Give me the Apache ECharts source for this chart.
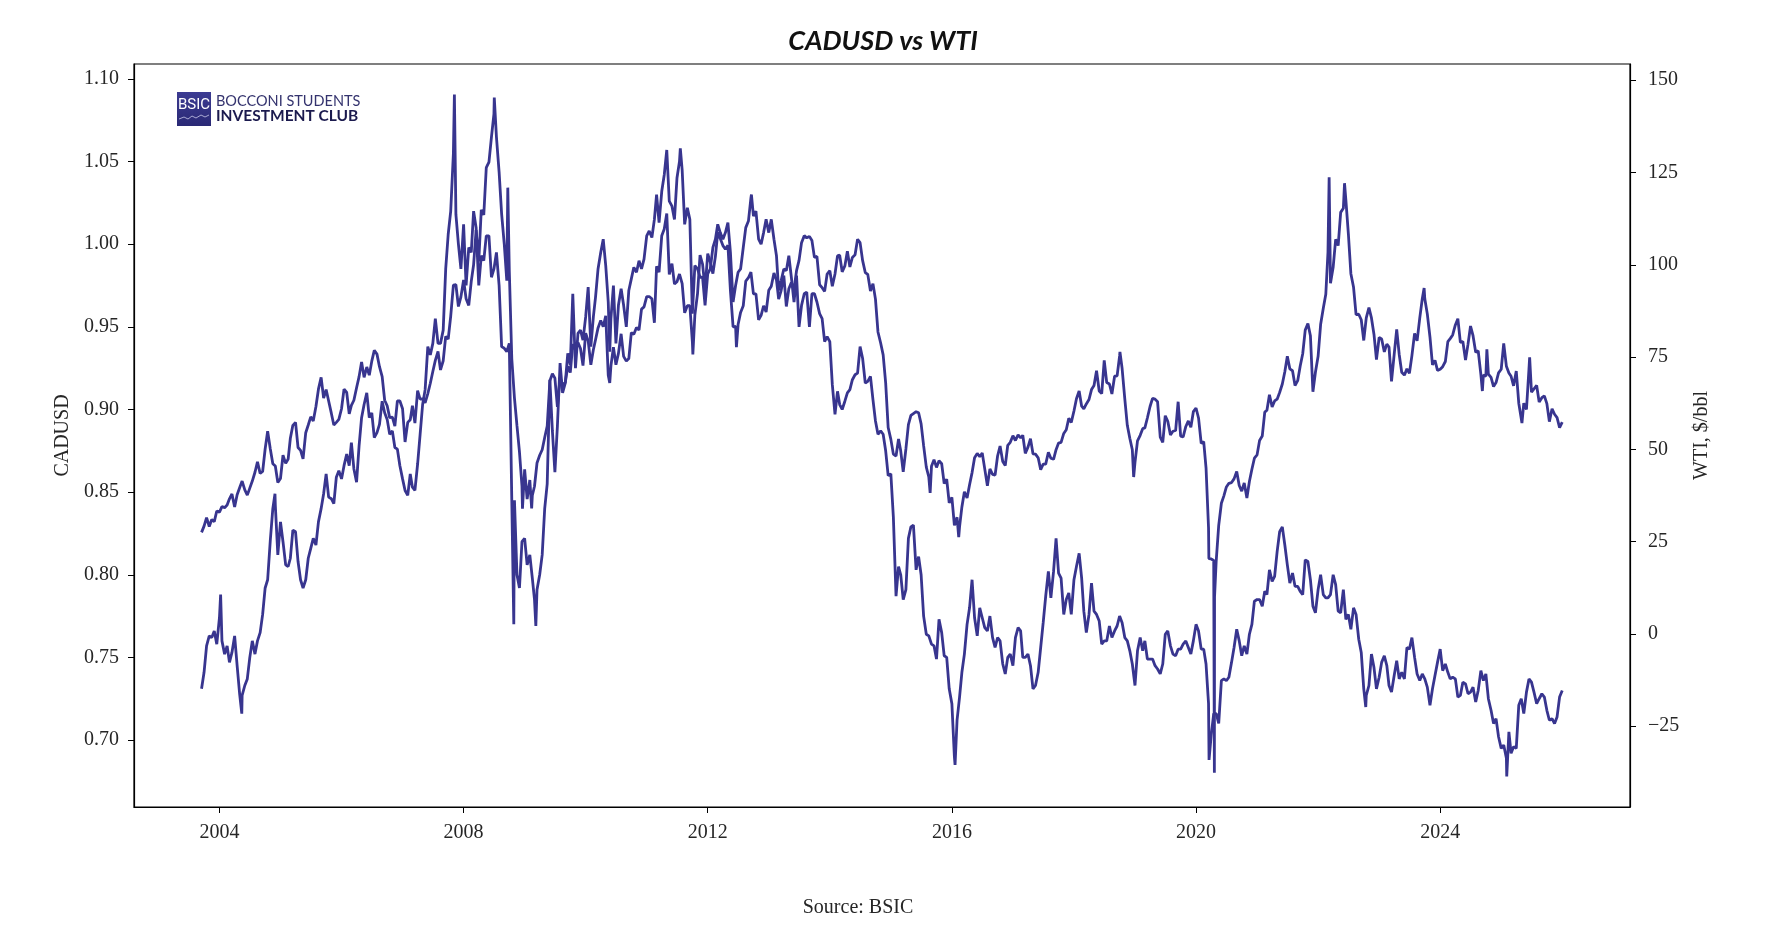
<!DOCTYPE html>
<html>
<head>
<meta charset="utf-8">
<script src="https://cdn.jsdelivr.net/npm/echarts@6.0.0/dist/echarts.min.js"></script>
<style>
html,body{margin:0;padding:0;background:#fff;}
#chart{width:1770px;height:936px;}
</style>
</head>
<body>
<div id="chart"></div>
<script>
// ---- Data (semi-monthly samples: 1st and 16th of each month; 2003 starts Sep 16) ----
const firstYear = 2003;
const cadusdByYear = [
  [0.731,0.741,0.757,0.763,0.762,0.766,0.758],
  [0.774,0.760,0.752,0.757,0.747,0.753,0.763,0.745,0.728,0.727,0.733,0.737,0.750,0.760,0.752,0.760,0.765,0.776,0.792,0.797,0.821,0.840,0.842,0.812],
  [0.832,0.820,0.806,0.805,0.810,0.827,0.826,0.808,0.797,0.792,0.797,0.810,0.816,0.822,0.818,0.832,0.840,0.849,0.861,0.847,0.846,0.843,0.859,0.863],
  [0.858,0.866,0.873,0.866,0.880,0.864,0.856,0.878,0.895,0.903,0.910,0.895,0.898,0.883,0.886,0.891,0.905,0.898,0.894,0.885,0.887,0.877,0.876,0.866],
  [0.858,0.851,0.848,0.861,0.853,0.851,0.867,0.885,0.903,0.912,0.938,0.933,0.940,0.955,0.940,0.940,0.948,0.985,1.006,1.020,1.055,1.018,1.000,0.985],
  [1.012,0.975,0.998,0.995,1.020,1.010,0.975,0.993,0.990,1.005,1.005,0.980,0.985,0.995,0.975,0.938,0.937,0.935,0.940,0.845,0.845,0.800,0.792,0.820],
  [0.822,0.806,0.812,0.798,0.785,0.791,0.800,0.812,0.840,0.855,0.918,0.887,0.862,0.890,0.928,0.910,0.916,0.934,0.927,0.970,0.925,0.946,0.948,0.942],
  [0.956,0.974,0.938,0.956,0.968,0.985,0.995,1.003,0.987,0.965,0.955,0.975,0.940,0.963,0.973,0.963,0.950,0.972,0.979,0.986,0.983,0.990,0.985,0.991],
  [1.005,1.008,1.004,1.015,1.030,1.013,1.032,1.042,1.057,1.026,1.023,1.015,1.040,1.050,1.045,1.012,1.022,1.015,0.958,0.987,0.985,0.980,0.980,0.963],
  [0.982,0.985,0.998,1.003,1.012,1.007,1.003,1.007,1.013,0.995,0.965,0.975,0.983,0.985,0.998,1.010,1.014,1.028,1.017,1.020,1.003,1.000,1.007,1.015],
  [1.007,1.015,1.003,0.993,0.972,0.978,0.985,0.984,0.993,0.980,0.965,0.981,0.950,0.963,0.970,0.971,0.950,0.970,0.970,0.965,0.958,0.955,0.941,0.944],
  [0.941,0.915,0.897,0.911,0.903,0.900,0.905,0.910,0.912,0.918,0.921,0.922,0.938,0.931,0.916,0.917,0.920,0.906,0.893,0.885,0.887,0.885,0.875,0.860],
  [0.861,0.835,0.787,0.805,0.800,0.785,0.791,0.822,0.829,0.830,0.803,0.811,0.800,0.775,0.764,0.763,0.758,0.757,0.749,0.773,0.765,0.751,0.750,0.731],
  [0.722,0.690,0.712,0.726,0.741,0.752,0.770,0.780,0.797,0.774,0.763,0.780,0.774,0.768,0.766,0.775,0.762,0.756,0.762,0.760,0.746,0.740,0.750,0.752],
  [0.745,0.762,0.768,0.766,0.750,0.750,0.752,0.745,0.731,0.733,0.741,0.756,0.771,0.787,0.802,0.786,0.802,0.822,0.801,0.798,0.776,0.785,0.789,0.776],
  [0.797,0.805,0.813,0.798,0.778,0.765,0.776,0.795,0.778,0.776,0.772,0.758,0.760,0.760,0.769,0.762,0.766,0.769,0.775,0.771,0.762,0.760,0.754,0.746],
  [0.733,0.754,0.762,0.754,0.760,0.749,0.749,0.749,0.745,0.743,0.740,0.746,0.764,0.766,0.757,0.752,0.751,0.755,0.755,0.758,0.760,0.756,0.752,0.760],
  [0.770,0.766,0.755,0.755,0.746,0.722,0.703,0.716,0.716,0.710,0.736,0.737,0.736,0.738,0.747,0.756,0.767,0.760,0.751,0.757,0.752,0.764,0.770,0.784],
  [0.785,0.785,0.781,0.790,0.788,0.803,0.796,0.799,0.814,0.826,0.829,0.818,0.806,0.795,0.801,0.793,0.793,0.790,0.788,0.809,0.808,0.797,0.781,0.777],
  [0.791,0.800,0.788,0.786,0.786,0.788,0.800,0.794,0.778,0.777,0.791,0.773,0.776,0.767,0.780,0.776,0.761,0.753,0.731,0.727,0.733,0.752,0.744,0.731],
  [0.738,0.747,0.751,0.745,0.733,0.729,0.739,0.748,0.737,0.741,0.737,0.756,0.755,0.762,0.750,0.740,0.736,0.740,0.737,0.732,0.721,0.731,0.739,0.747],
  [0.755,0.742,0.746,0.741,0.737,0.738,0.737,0.726,0.727,0.735,0.734,0.728,0.729,0.732,0.723,0.730,0.742,0.736,0.740,0.725,0.718,0.710,0.713,0.702],
  [0.695,0.697,0.689,0.705,0.692,0.696,0.695,0.721,0.725,0.716,0.729,0.737,0.735,0.729,0.722,0.725,0.728,0.726,0.718,0.712,0.713,0.710,0.714,0.726],
  [0.730]
];
const wtiByYear = [
  [27.5,29.2,31.5,29.1,31.0,30.4,33.3],
  [33.0,34.5,34.2,34.9,36.6,37.9,34.4,37.7,39.6,41.4,39.0,37.6,39.5,41.4,43.8,46.6,43.5,44.0,50.1,54.9,50.1,46.1,45.5,41.0],
  [42.1,48.4,46.2,47.4,53.0,56.5,57.3,50.5,49.7,47.4,54.5,56.6,58.8,57.7,61.6,66.3,69.5,63.9,66.2,63.1,59.8,56.6,57.3,58.1],
  [61.0,66.3,65.4,59.6,61.9,63.3,66.7,69.7,73.7,69.5,72.3,70.1,73.9,76.8,75.8,72.4,69.7,63.3,61.8,58.6,58.7,56.3,63.1,63.1],
  [61.0,52.0,57.3,58.0,61.8,57.1,65.9,63.6,63.7,62.6,65.1,67.9,71.1,74.1,76.5,71.5,74.0,80.6,79.9,86.1,94.5,94.6,88.7,91.3],
  [95.9,90.8,89.0,95.5,100.0,109.4,100.9,114.9,113.5,126.3,127.8,134.6,140.9,134.6,125.1,113.8,105.5,95.7,98.5,74.5,63.9,56.4,49.3,40.0],
  [44.6,36.5,41.7,37.5,40.0,46.3,48.4,49.9,53.2,56.3,68.6,70.5,69.3,61.5,69.5,67.5,68.1,72.5,70.8,78.5,77.0,78.9,77.3,72.7],
  [81.5,79.4,72.9,77.0,79.7,82.9,84.9,83.2,86.2,70.1,72.6,77.7,72.9,76.0,81.3,75.2,73.9,74.6,81.6,81.2,83.0,82.3,88.0,88.6],
  [91.4,91.4,90.8,84.3,99.6,98.0,107.9,109.7,113.9,97.4,100.3,94.8,95.4,97.5,94.9,87.0,88.9,88.9,79.2,86.4,92.2,102.6,100.2,93.5],
  [103.0,100.7,97.6,102.3,108.8,107.1,105.2,104.2,105.3,93.0,83.2,83.3,83.8,87.1,88.9,95.6,96.5,98.0,92.1,92.1,85.1,86.3,88.9,87.2],
  [93.1,94.2,97.8,95.9,90.7,93.0,97.1,88.7,93.5,95.2,93.3,98.4,101.2,106.0,107.9,107.3,107.7,106.6,102.0,102.3,94.6,93.8,92.8,97.5],
  [98.4,94.2,97.5,102.4,102.6,98.1,99.7,103.7,99.4,102.0,102.7,106.9,106.0,101.2,97.9,97.4,92.9,94.9,90.7,81.8,78.8,75.6,68.0,55.9],
  [52.7,48.7,48.2,52.8,49.6,43.9,50.1,56.7,59.2,59.7,60.2,59.9,56.9,51.0,45.2,42.5,45.4,47.2,45.1,46.9,46.1,40.7,41.9,35.5],
  [37.0,29.4,31.6,29.0,34.4,38.5,36.8,40.4,43.7,47.7,48.9,48.0,49.0,44.7,40.1,44.7,43.2,43.0,48.2,50.9,46.7,45.6,51.1,51.9],
  [53.7,52.4,53.9,53.1,53.8,48.9,50.6,52.9,48.8,48.7,47.7,44.5,46.0,46.0,49.2,47.6,47.3,49.9,51.7,51.9,54.3,55.3,58.4,57.3],
  [60.4,63.7,65.8,61.7,61.0,62.3,63.5,66.2,67.3,71.3,65.8,65.1,74.1,68.1,67.7,65.0,69.8,69.9,75.3,71.9,63.7,56.5,53.0,49.9],
  [46.5,52.3,53.8,55.6,55.8,58.5,61.6,63.8,63.6,62.9,53.3,51.9,59.1,57.6,53.9,54.9,55.1,62.9,53.6,53.4,56.2,57.7,56.0,60.2],
  [61.2,58.5,51.6,52.1,45.0,28.7,20.3,19.9,19.8,29.4,35.4,37.4,39.8,40.8,41.0,42.0,44.0,40.2,38.7,40.9,36.8,41.3,44.6,47.6],
  [48.5,52.4,53.6,60.1,60.6,64.8,61.5,63.1,63.6,65.4,67.7,71.0,75.2,71.8,71.3,67.3,68.6,72.6,75.9,82.3,84.1,80.8,65.6,70.9],
  [75.2,83.8,88.2,92.0,103.4,95.0,99.3,106.9,105.2,114.2,115.3,117.6,108.4,97.6,93.9,86.5,86.6,85.1,79.5,85.6,88.4,85.6,81.2,74.3],
  [80.3,79.9,76.4,78.5,77.7,68.4,75.7,82.5,75.7,70.9,70.1,71.8,70.6,75.4,81.4,79.4,85.6,90.8,90.8,86.7,80.4,72.9,74.1,71.4],
  [71.7,72.4,73.8,79.2,80.0,81.0,83.7,85.4,79.0,79.2,74.2,78.5,83.4,80.8,76.3,76.7,70.3,70.1,69.8,70.4,69.5,67.0,68.1,70.7],
  [71.7,78.7,72.5,70.7,69.8,67.2,71.2,62.5,58.3,62.5,60.8,71.8,65.5,66.4,67.3,62.8,64.0,64.5,62.4,57.5,61.0,59.5,58.6,55.9],
  [57.4]
];
// intra-period extremes visible in the daily series
const cadusdExtraDates = ['2004-01-08','2004-05-14','2004-11-29','2007-11-07','2008-10-28','2009-03-09','2010-05-25','2011-07-21','2012-09-19','2016-01-20','2020-03-19','2022-10-13','2025-02-03'];
const cadusdExtraValues = [0.788,0.716,0.849,1.0905,0.770,0.769,0.935,1.058,1.030,0.685,0.688,0.720,0.678];
const wtiExtraDates = ['2008-07-03','2008-09-22','2008-12-19','2009-02-12','2010-05-25','2011-10-04','2012-06-21','2015-08-24','2016-02-11','2018-10-03','2018-12-24','2020-03-18','2020-04-20','2020-04-21','2022-03-08','2022-06-08','2023-09-27','2024-09-10','2024-10-07','2025-05-05','2025-06-20'];
const wtiExtraValues = [145.3,120.9,33.9,34.0,68.0,75.7,77.7,38.2,26.2,76.4,42.5,20.4,-37.6,10.0,123.7,122.1,93.7,65.8,77.1,57.1,74.9];

const xTicks = [2004, 2008, 2012, 2016, 2020, 2024];
const leftTicks = [0.70, 0.75, 0.80, 0.85, 0.90, 0.95, 1.00, 1.05, 1.10];
const rightTicks = [-25, 0, 25, 50, 75, 100, 125, 150];

// ---- helpers ----
function decYear(y, m, d) {
  const t = Date.UTC(y, m - 1, d), a = Date.UTC(y, 0, 1), b = Date.UTC(y + 1, 0, 1);
  return y + (t - a) / (b - a);
}
function yearDates(y) {
  const out = [];
  for (let m = 1; m <= 12; m++) for (const d of [1, 16]) {
    if (y === 2003 && (m < 9 || (m === 9 && d === 1))) continue;
    out.push(decYear(y, m, d));
  }
  return out;
}
function buildSeries(byYear, exDates, exVals) {
  const pts = [];
  byYear.forEach((vals, k) => {
    const ds = yearDates(firstYear + k);
    for (let i = 0; i < Math.min(vals.length, ds.length); i++) pts.push([ds[i], vals[i]]);
  });
  exDates.forEach((s, i) => {
    const [y, m, d] = s.split('-').map(Number);
    pts.push([decYear(y, m, d), exVals[i]]);
  });
  pts.sort((a, b) => a[0] - b[0]);
  return pts;
}
const cadData = buildSeries(cadusdByYear, cadusdExtraDates, cadusdExtraValues);
const wtiData = buildSeries(wtiByYear, wtiExtraDates, wtiExtraValues);

const LINE = '#38358f';
const SERIF = '"Liberation Serif", "DejaVu Serif", serif';
const TXT = '#262626';

const chart = echarts.init(document.getElementById('chart'), null, {renderer: 'canvas'});
chart.setOption({
  animation: false,
  backgroundColor: '#ffffff',
  grid: {left: 134, right: 140, top: 64, bottom: 129, show: true, borderColor: '#000', borderWidth: 1.2, backgroundColor: 'transparent'},
  xAxis: {
    type: 'value', min: 2002.60, max: 2027.11,
    axisLine: {show: true, onZero: false, lineStyle: {color: '#000', width: 1.2}},
    axisTick: {show: true, customValues: xTicks, length: 6, lineStyle: {color: '#000', width: 1}},
    axisLabel: {customValues: xTicks, fontFamily: SERIF, fontSize: 20, color: TXT, margin: 16, formatter: v => String(Math.round(v))},
    splitLine: {show: false}
  },
  yAxis: [{
    type: 'value', position: 'left', min: 0.6595, max: 1.109,
    name: 'CADUSD', nameLocation: 'middle', nameGap: 61, nameRotate: 90,
    nameTextStyle: {fontFamily: SERIF, fontSize: 20, color: TXT},
    axisLine: {show: true, onZero: false, lineStyle: {color: '#000', width: 1.2}},
    axisTick: {show: true, customValues: leftTicks, length: 6, lineStyle: {color: '#000', width: 1}},
    axisLabel: {customValues: leftTicks, fontFamily: SERIF, fontSize: 20, color: TXT, margin: 15, formatter: v => v.toFixed(2)},
    splitLine: {show: false}
  }, {
    type: 'value', position: 'right', min: -46.9, max: 154.4,
    name: 'WTI, $/bbl', nameLocation: 'middle', nameGap: 62, nameRotate: 90,
    nameTextStyle: {fontFamily: SERIF, fontSize: 20, color: TXT},
    axisLine: {show: true, onZero: false, lineStyle: {color: '#000', width: 1.2}},
    axisTick: {show: true, customValues: rightTicks, length: 6, lineStyle: {color: '#000', width: 1}},
    axisLabel: {customValues: rightTicks, fontFamily: SERIF, fontSize: 20, color: TXT, margin: 18,
      formatter: v => (v < 0 ? '\u2212' + Math.abs(Math.round(v)) : String(Math.round(v)))},
    splitLine: {show: false}
  }],
  series: [{
    name: 'CADUSD', type: 'line', yAxisIndex: 0, data: cadData, showSymbol: false, symbol: 'none',
    lineStyle: {color: LINE, width: 2.8}, itemStyle: {color: LINE}, z: 3
  }, {
    name: 'WTI', type: 'line', yAxisIndex: 1, data: wtiData, showSymbol: false, symbol: 'none',
    lineStyle: {color: LINE, width: 2.8}, itemStyle: {color: LINE}, z: 3
  }],
  graphic: [
    {type: 'text', x: 883, y: 41, style: {text: 'CADUSD vs WTI', fontFamily: 'Lato, "Open Sans", sans-serif', fontWeight: 'bold', fontStyle: 'italic', fontSize: 27, fill: '#111', align: 'center', verticalAlign: 'middle'}},
    {type: 'text', x: 858, y: 908, style: {text: 'Source: BSIC', fontFamily: SERIF, fontSize: 20, fill: TXT, align: 'center', verticalAlign: 'middle'}},
    {type: 'group', x: 177, y: 92, children: [
      {type: 'rect', shape: {x: 0, y: 0, width: 34, height: 34}, style: {fill: new echarts.graphic.LinearGradient(0, 0, 0, 1, [{offset: 0, color: '#3c3b92'}, {offset: 1, color: '#2a2975'}])}},
      {type: 'text', x: 17, y: 13, style: {text: 'BSIC', fontFamily: '"Liberation Sans Narrow", Roboto, sans-serif', fontSize: 15, fill: '#ffffff', align: 'center', verticalAlign: 'middle'}},
      {type: 'polyline', shape: {points: [[2, 27], [7, 25], [11, 27], [15, 24], [19, 26], [24, 23], [28, 25], [32, 23]]}, style: {stroke: '#c9c9ea', lineWidth: 0.8, fill: null}},
      {type: 'text', x: 39, y: 9, style: {text: 'BOCCONI STUDENTS', fontFamily: 'Lato, sans-serif', fontSize: 14.5, fill: '#34336e', verticalAlign: 'middle'}},
      {type: 'text', x: 39, y: 24, style: {text: 'INVESTMENT CLUB', fontFamily: 'Lato, sans-serif', fontWeight: 'bold', fontSize: 15.5, fill: '#1b1a4e', verticalAlign: 'middle'}}
    ]}
  ]
});
</script>
</body>
</html>
